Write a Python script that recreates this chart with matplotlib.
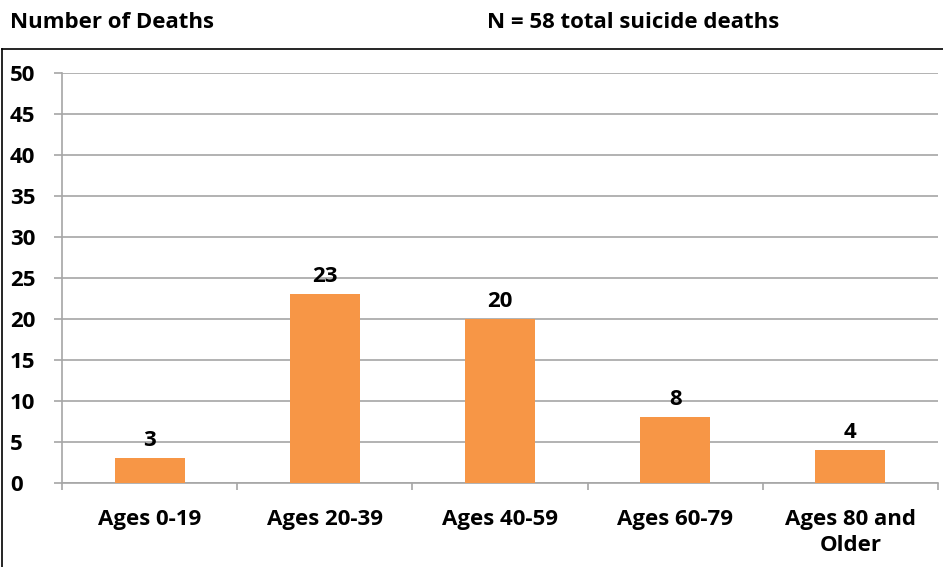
import matplotlib
matplotlib.use('Agg')
import matplotlib.pyplot as plt
from matplotlib.lines import Line2D

# Datos del gráfico
categorias = ['Ages 0-19', 'Ages 20-39', 'Ages 40-59', 'Ages 60-79', 'Ages 80 and\nOlder']
muertes = [3, 23, 20, 8, 4]
ticks_y = list(range(0, 55, 5))

plt.rcParams['font.family'] = ['Open Sans', 'DejaVu Sans']
plt.rcParams['font.weight'] = 'bold'
tam = 16

fig = plt.figure(figsize=(9.43, 5.67), dpi=100)
W, H = 943, 567
ax = fig.add_axes([62 / W, 1 - 483 / H, (938 - 62) / W, (483 - 73) / H])

x = list(range(len(categorias)))
ax.bar(x, muertes, width=0.4, color='#F79646', zorder=3)

for xi, v in zip(x, muertes):
    ax.text(xi, v + 0.9, str(v), ha='center', va='bottom', fontsize=tam, fontweight='bold')

ax.set_xlim(-0.5, len(categorias) - 0.5)
ax.set_ylim(0, 50)
ax.set_yticks(ticks_y)
ax.set_yticklabels([str(t) for t in ticks_y], fontsize=tam, fontweight='bold')
ax.grid(axis='y', color='#A6A6A6', linewidth=1.2, zorder=0)
ax.set_axisbelow(True)

# Marcas del eje x entre categorías
ax.set_xticks([i - 0.5 for i in range(len(categorias) + 1)])
ax.set_xticklabels([])
ax.set_xticks(x, minor=True)
ax.set_xticklabels(categorias, minor=True, fontsize=tam, fontweight='bold', linespacing=1.3)
ax.tick_params(axis='x', which='major', length=5, color='#A6A6A6', width=1.2)
ax.tick_params(axis='x', which='minor', length=0, pad=19)
ax.tick_params(axis='y', length=6, color='#A6A6A6', width=1.2, pad=31.5)
for lab in ax.get_yticklabels():
    lab.set_horizontalalignment('left')

for s in ['top', 'right']:
    ax.spines[s].set_visible(False)
for s in ['left', 'bottom']:
    ax.spines[s].set_color('#A6A6A6')
    ax.spines[s].set_linewidth(1.2)

# Marco de la figura (sólo izquierda y arriba se ven)
fig.add_artist(Line2D([1.5 / W, 1.5 / W], [0, 1 - 49 / H], color='black', linewidth=1.2))
fig.add_artist(Line2D([1.5 / W, 1], [1 - 49 / H, 1 - 49 / H], color='black', linewidth=1.2))

fig.text(10 / W, 1 - 22 / H, 'Number of Deaths', ha='left', va='center', fontsize=tam, fontweight='bold')
fig.text(633 / W, 1 - 22 / H, 'N = 58 total suicide deaths', ha='center', va='center', fontsize=tam, fontweight='bold')

fig.savefig('out.png', dpi=100)
